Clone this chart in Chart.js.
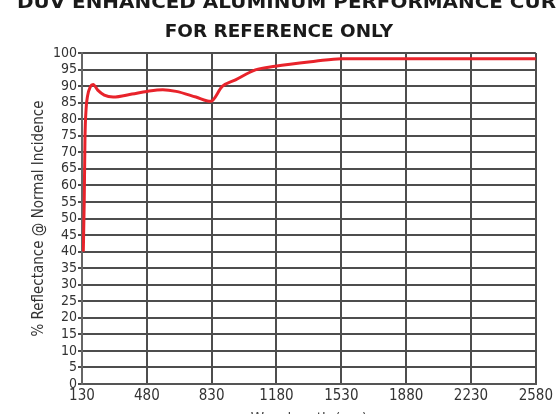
<!DOCTYPE html>
<html>
<head>
<meta charset="utf-8">
<script src="https://cdn.jsdelivr.net/npm/chart.js@4.4.1/dist/chart.umd.min.js"></script>
<style>
  html, body { margin: 0; padding: 0; background: #fff; }
  #wrap { width: 556px; height: 414px; overflow: hidden; position: relative; }
  #chart { position: absolute; left: 0; top: 0; }
</style>
</head>
<body>
<div id="wrap"><canvas id="chart" width="556" height="434"></canvas></div>
<script>
// wavelength (nm) and reflectance (%)
const wavelengths = [137, 142, 146, 152, 160, 175, 190, 215, 250, 298, 400, 480, 566, 638, 745, 825, 887, 959, 1066, 1173, 1388, 1530, 1880, 2230, 2580];
const reflectance = [40, 55, 74, 83, 87, 89.8, 90.5, 88.8, 87.3, 86.7, 87.6, 88.4, 88.9, 88.4, 86.7, 85.4, 89.9, 91.9, 94.9, 96.0, 97.5, 98.3, 98.3, 98.3, 98.3];
const xTicks = [130, 480, 830, 1180, 1530, 1880, 2230, 2580];
const titleLines = ['DUV ENHANCED ALUMINUM PERFORMANCE CURVE', 'FOR REFERENCE ONLY'];

const narrow = "'Liberation Sans Narrow', 'DejaVu Sans Condensed', 'Roboto Condensed', sans-serif";
const gridcolor = '#4d4d4d';

const titlePlugin = {
  id: 'twoLineTitle',
  afterDraw(chart) {
    const c = chart.ctx;
    c.save();
    c.fillStyle = '#1a1a1a';
    c.font = "bold 19px 'DejaVu Sans', sans-serif";
    // scale so the second line is about as wide as in the picture
    const w = c.measureText(titleLines[1]).width;
    const size = 19 * 228 / w;
    c.font = 'bold ' + size.toFixed(1) + "px 'DejaVu Sans', sans-serif";
    c.textBaseline = 'alphabetic';
    // first line runs off the right edge in the original
    const part = c.measureText('DUV ENHANCED ALUMINUM PERFORMANCE CUR').width;
    const sx = 539 / part;
    c.save();
    c.translate(17, 8);
    c.scale(sx, 1);
    c.textAlign = 'left';
    c.fillText(titleLines[0], 0, 0);
    c.restore();
    c.textAlign = 'center';
    c.fillText(titleLines[1], 279, 37);
    c.restore();
  }
};

const points = wavelengths.map((w, i) => ({x: w, y: reflectance[i]}));

const ctx = document.getElementById('chart');
new Chart(ctx, {
  type: 'line',
  data: {
    datasets: [{
      label: 'Reflectance',
      data: points,
      borderColor: '#e8232b',
      borderWidth: 3,
      pointRadius: 0,
      fill: false,
      cubicInterpolationMode: 'monotone'
    }]
  },
  options: {
    responsive: false,
    devicePixelRatio: 1,
    animation: false,
    layout: { padding: { top: 53, right: 16, left: 0, bottom: 0 } },
    plugins: {
      legend: { display: false },
      tooltip: { enabled: false }
    },
    scales: {
      x: {
        type: 'linear',
        min: 130,
        max: 2580,
        afterBuildTicks: axis => { axis.ticks = xTicks.map(v => ({value: v})); },
        afterFit: axis => { axis.height = 50; },
        grid: { color: gridcolor, lineWidth: 2, tickLength: 0 },
        border: { color: '#555', width: 2 },
        ticks: {
          color: '#333',
          padding: 3,
          maxRotation: 0,
          autoSkip: false,
          callback: v => String(v),
          font: { family: narrow, size: 15 }
        },
        title: {
          display: true,
          text: 'Wavelength (nm)',
          color: '#444',
          padding: { top: 0, bottom: 4.6 },
          font: { family: narrow, size: 15 }
        }
      },
      y: {
        min: 0,
        max: 100,
        afterFit: axis => { axis.width = 82; },
        grid: { color: gridcolor, lineWidth: 2, tickLength: 4 },
        border: { color: '#666', width: 2 },
        ticks: {
          stepSize: 5,
          autoSkip: false,
          color: '#333',
          padding: 1,
          font: { family: narrow, size: 14 }
        },
        title: {
          display: true,
          text: '% Reflectance @ Normal Incidence',
          color: '#333',
          padding: { top: 30, bottom: 0 },
          font: { family: narrow, size: 15 }
        }
      }
    }
  },
  plugins: [titlePlugin]
});
</script>
</body>
</html>
